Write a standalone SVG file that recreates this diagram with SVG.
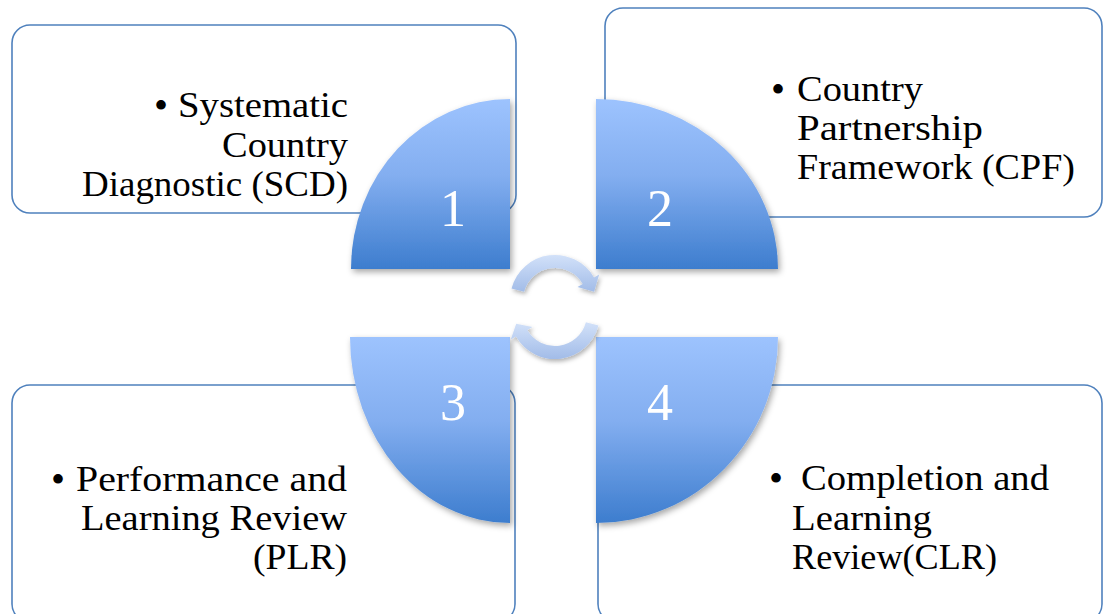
<svg xmlns="http://www.w3.org/2000/svg" width="1103" height="614" viewBox="0 0 1103 614">
  <style>
    .box { fill: #ffffff; stroke: #4f81bd; stroke-width: 1.6; }
    .quad { fill: url(#quadGrad); filter: url(#shadow); }
    .arrow { fill: url(#arrowGrad); filter: url(#shadowSoft); }
    .lbl { font-family: "Liberation Serif", "Times New Roman", serif; font-size: 36px; fill: #000000; }
    .bul { font-family: "Liberation Serif", "Times New Roman", serif; font-size: 40px; fill: #000000; }
    .num { font-family: "Liberation Serif", "Times New Roman", serif; font-size: 52px; fill: #ffffff; text-anchor: middle; }
  </style>
  <defs>
    <linearGradient id="quadGrad" x1="0" y1="0" x2="0" y2="1">
      <stop offset="0" stop-color="#9dc3fe"/>
      <stop offset="0.45" stop-color="#83aef0"/>
      <stop offset="1" stop-color="#3d7dce"/>
    </linearGradient>
    <linearGradient id="arrowGrad" x1="0" y1="0" x2="0" y2="1">
      <stop offset="0" stop-color="#d2e1f9"/>
      <stop offset="1" stop-color="#a2bce8"/>
    </linearGradient>
    <filter id="shadow" x="-10%" y="-10%" width="130%" height="130%">
      <feDropShadow dx="2" dy="3" stdDeviation="3" flood-color="#000000" flood-opacity="0.35"/>
    </filter>
    <filter id="shadowSoft" x="-20%" y="-20%" width="150%" height="160%">
      <feDropShadow dx="1.5" dy="2.5" stdDeviation="2" flood-color="#000000" flood-opacity="0.3"/>
    </filter>
  </defs>
  <rect width="1103" height="614" fill="#ffffff"/>

  <g id="node-1">
    <rect class="box" x="12" y="25" width="504" height="188" rx="18" ry="18"/>
    <text class="bul" x="154" y="119">•</text>
    <text class="lbl" x="178" y="117" textLength="170" lengthAdjust="spacingAndGlyphs">Systematic</text>
    <text class="lbl" x="222" y="157" textLength="126" lengthAdjust="spacingAndGlyphs">Country</text>
    <text class="lbl" x="82" y="196" textLength="266" lengthAdjust="spacingAndGlyphs">Diagnostic (SCD)</text>
    <path class="quad" d="M510,269 L351,269 A159,170 0 0 1 510,99 Z"/>
    <text class="num" x="453" y="226">1</text>
  </g>

  <g id="node-2">
    <rect class="box" x="605" y="8" width="497" height="209" rx="18" ry="18"/>
    <text class="bul" x="771" y="103">•</text>
    <text class="lbl" x="797" y="101" textLength="126" lengthAdjust="spacingAndGlyphs">Country</text>
    <text class="lbl" x="797" y="140" textLength="186" lengthAdjust="spacingAndGlyphs">Partnership</text>
    <text class="lbl" x="797" y="179" textLength="278" lengthAdjust="spacingAndGlyphs">Framework (CPF)</text>
    <path class="quad" d="M596,269 L596,99 A182,170 0 0 1 778,269 Z"/>
    <text class="num" x="660" y="226">2</text>
  </g>

  <g id="node-3">
    <rect class="box" x="12" y="385" width="503" height="237" rx="18" ry="18"/>
    <text class="bul" x="51" y="493">•</text>
    <text class="lbl" x="76" y="491" textLength="271" lengthAdjust="spacingAndGlyphs">Performance and</text>
    <text class="lbl" x="81" y="530" textLength="266" lengthAdjust="spacingAndGlyphs">Learning Review</text>
    <text class="lbl" x="253" y="569" textLength="94" lengthAdjust="spacingAndGlyphs">(PLR)</text>
    <path class="quad" d="M510,337 L510,523 A160,186 0 0 1 350,337 Z"/>
    <text class="num" x="453" y="420">3</text>
  </g>

  <g id="node-4">
    <rect class="box" x="598" y="385" width="504" height="237" rx="18" ry="18"/>
    <text class="bul" x="769" y="492">•</text>
    <text class="lbl" x="801" y="490" textLength="248" lengthAdjust="spacingAndGlyphs">Completion and</text>
    <text class="lbl" x="792" y="530" textLength="140" lengthAdjust="spacingAndGlyphs">Learning</text>
    <text class="lbl" x="792" y="569" textLength="205" lengthAdjust="spacingAndGlyphs">Review(CLR)</text>
    <path class="quad" d="M596,337 L778,337 A182,186 0 0 1 596,523 Z"/>
    <text class="num" x="660" y="420">4</text>
  </g>

  <g id="connectors">
    <path class="arrow" d="M511.5,288.4 A45,45 0 0 1 594.0,277.5 L599.2,274.5 L594.1,291.7 L577.5,287.0 L582.7,284.0 A32,32 0 0 0 524.1,291.7 Z"/>
    <path class="arrow" d="M598.5,325.6 A45,45 0 0 1 516.0,336.5 L510.8,339.5 L516.2,323.7 L532.5,327.0 L527.3,330.0 A32,32 0 0 0 585.9,322.3 Z"/>
  </g>
</svg>
